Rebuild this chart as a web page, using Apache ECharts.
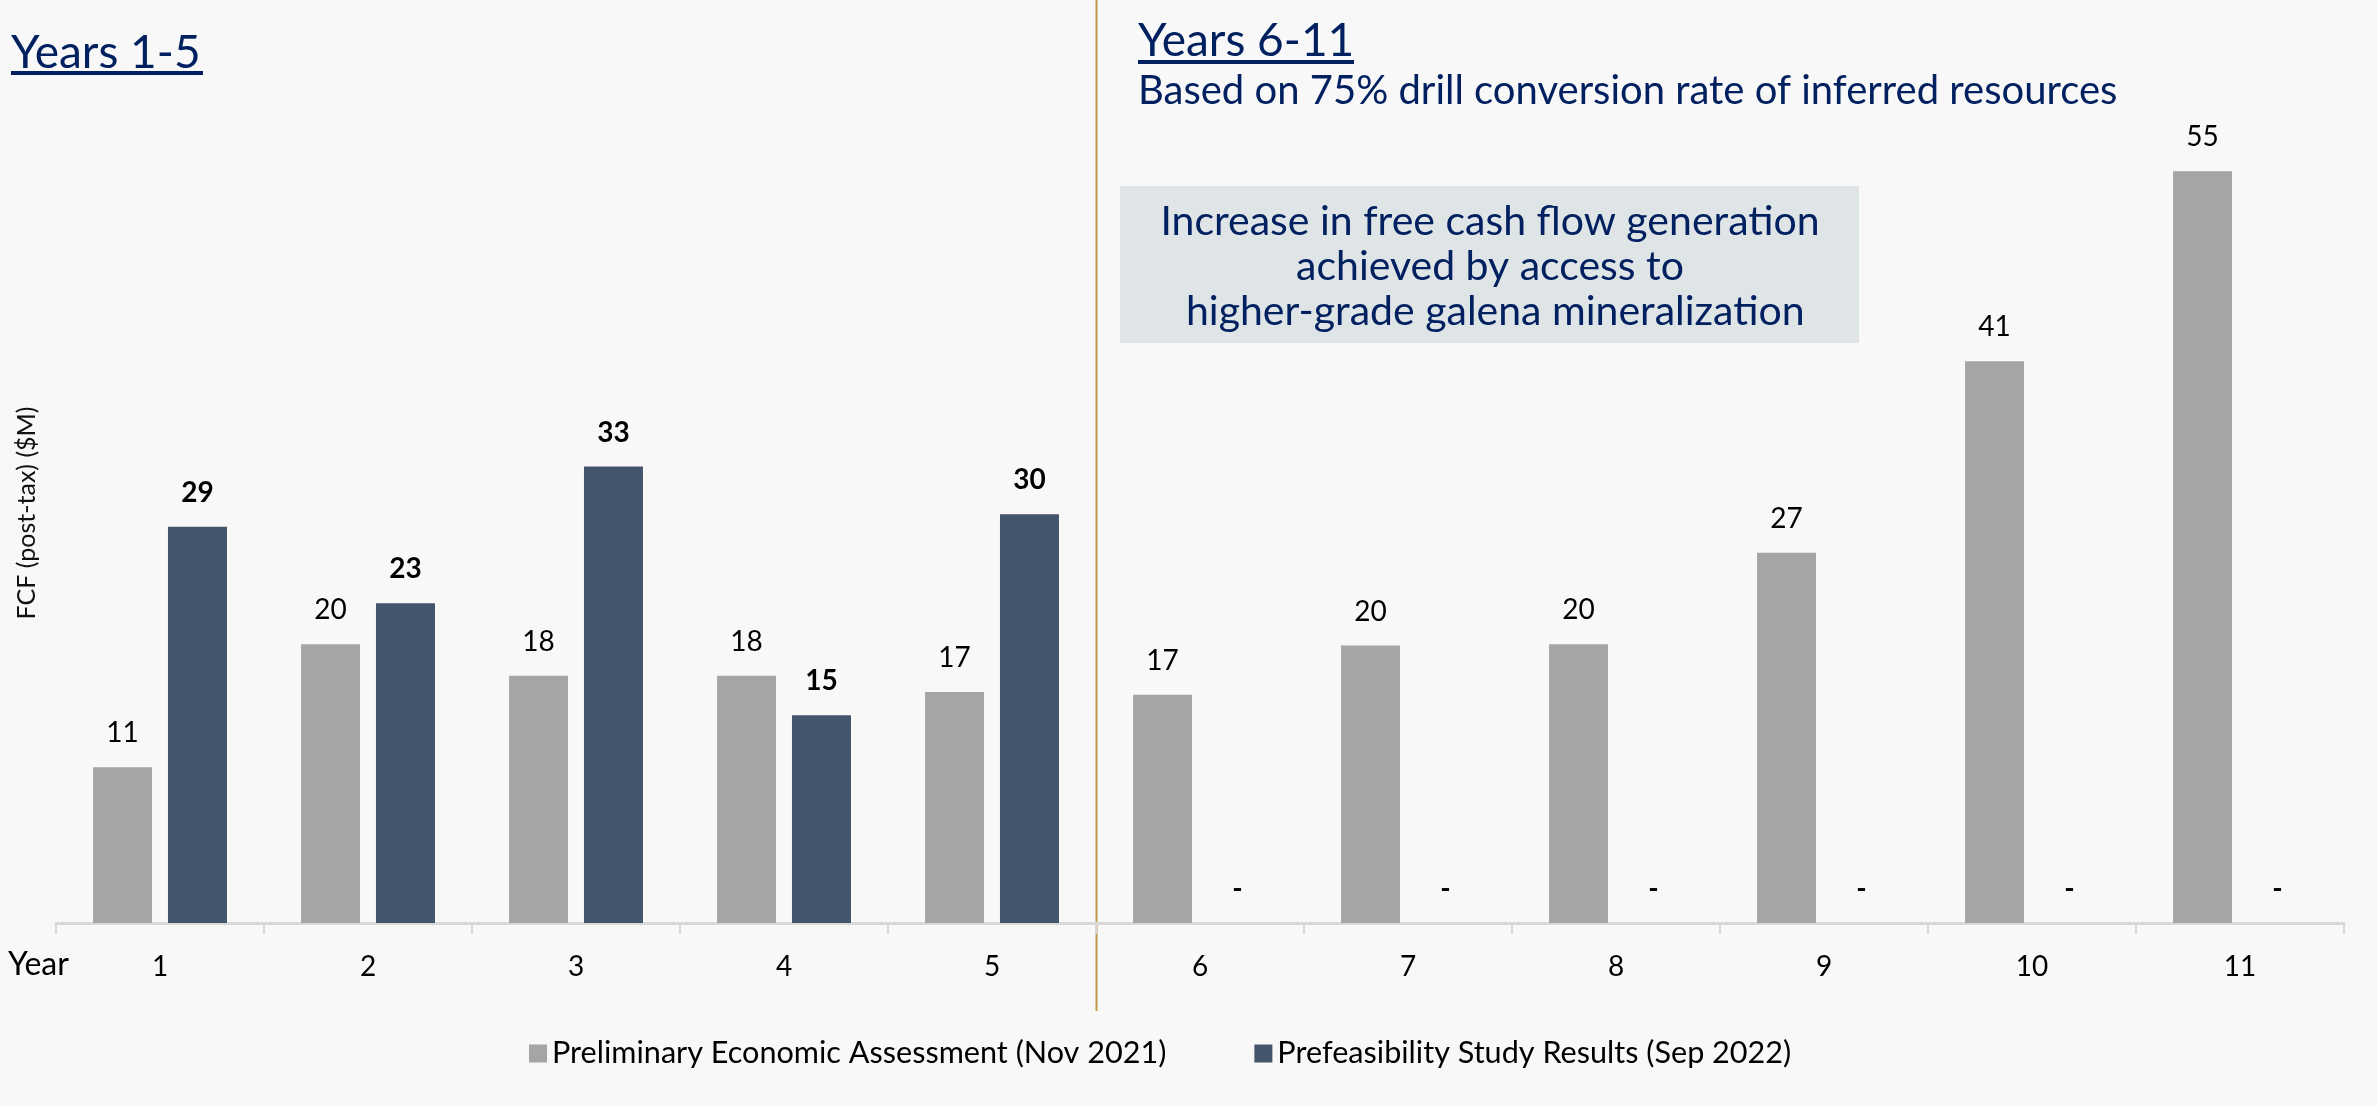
<!DOCTYPE html>
<html><head><meta charset="utf-8">
<script src="https://cdn.jsdelivr.net/npm/echarts@6/dist/echarts.min.js"></script>
<style>html,body{margin:0;padding:0;background:#f8f8f8}#c{width:2377px;height:1106px}</style>
</head><body><div id="c"></div>
<script>
const years = ['1','2','3','4','5','6','7','8','9','10','11'];
const peaName = 'Preliminary Economic Assessment (Nov 2021)';
const pfsName = 'Prefeasibility Study Results (Sep 2022)';
const peaValues = [11.4, 20.4, 18.1, 18.1, 16.9, 16.7, 20.3, 20.4, 27.1, 41.1, 55.0];
const pfsValues = [29.0, 23.4, 33.4, 15.2, 29.9, 0, 0, 0, 0, 0, 0];
const yAxisName = 'FCF (post-tax) ($M)';
const leftTitle = 'Years 1-5';
const rightTitle = 'Years 6-11';
const rightSubtitle = 'Based on 75% drill conversion rate of inferred resources';
const noteText = 'Increase in free cash flow generation\nachieved by access to\n higher-grade galena mineralization';

const FONT = 'Lato, "Noto Sans", sans-serif';
const NAVY = '#002060';
const chart = echarts.init(document.getElementById('c'));
const option = {
  backgroundColor: '#f8f8f8',
  animation: false,
  grid: {left: 56, right: 33, top: 103, bottom: 183},
  legend: {
    data: [peaName, pfsName], icon: 'rect', itemWidth: 18, itemHeight: 18, itemGap: 88,
    left: 524, top: 1033,
    textStyle: {fontSize: 30.6, color: '#000', fontFamily: FONT}
  },
  xAxis: {
    type: 'category', data: years,
    axisLine: {lineStyle: {color: '#d9d9d9', width: 3}},
    axisTick: {show: true, length: 11, lineStyle: {color: '#d9d9d9', width: 2}},
    axisLabel: {color: '#000', fontSize: 28, fontFamily: FONT, margin: 30}
  },
  yAxis: {
    type: 'value', min: 0, max: 60,
    axisLine: {show: false}, axisTick: {show: false}, axisLabel: {show: false}, splitLine: {show: false},
    name: yAxisName, nameLocation: 'middle', nameGap: 17,
    nameTextStyle: {fontSize: 25, color: '#111', fontFamily: FONT}
  },
  series: [
    {
      name: peaName, type: 'bar', data: peaValues, barWidth: 59, barGap: '27%',
      itemStyle: {color: '#a5a5a5'},
      label: {show: true, position: 'top', distance: 20, fontSize: 28, color: '#000', fontFamily: FONT,
        formatter: p => String(Math.round(p.value))}
    },
    {
      name: pfsName, type: 'bar', data: pfsValues, barWidth: 59,
      itemStyle: {color: '#44546a'},
      label: {show: true, position: 'top', distance: 20, fontSize: 28, color: '#000', fontWeight: 'bold', fontFamily: FONT,
        formatter: p => p.value === 0 ? '-' : String(Math.round(p.value))}
    }
  ],
  graphic: [
    {id: 't1', type: 'text', x: 11, y: 53, style: {text: leftTitle, fontSize: 46, fontFamily: FONT, fill: NAVY, align: 'left', verticalAlign: 'middle'}},
    {id: 'u1', type: 'rect', shape: {x: 11, y: 71, width: 192, height: 4}, style: {fill: NAVY}},
    {id: 't2', type: 'text', x: 1138, y: 41, style: {text: rightTitle, fontSize: 46, fontFamily: FONT, fill: NAVY, align: 'left', verticalAlign: 'middle'}},
    {id: 'u2', type: 'rect', shape: {x: 1138, y: 60, width: 216, height: 4}, style: {fill: NAVY}},
    {id: 't3', type: 'text', x: 1138, y: 91, style: {text: rightSubtitle, fontSize: 40, fontFamily: FONT, fill: NAVY, align: 'left', verticalAlign: 'middle'}},
    {id: 'box', type: 'rect', shape: {x: 1120, y: 186, width: 739, height: 157}, style: {fill: '#dfe4e7'}},
    {id: 'note', type: 'text', x: 1490, y: 267, style: {text: noteText, fontSize: 41, lineHeight: 45, fontFamily: FONT, fill: NAVY, align: 'center', verticalAlign: 'middle'}},
    {id: 'yr', type: 'text', x: 8, y: 965, style: {text: 'Year', fontSize: 32, fontFamily: FONT, fill: '#000', align: 'left', verticalAlign: 'middle'}}
  ]
};
chart.setOption(option);
const x5 = chart.convertToPixel({xAxisIndex: 0}, '5');
const x6 = chart.convertToPixel({xAxisIndex: 0}, '6');
const xm = Math.round((x5 + x6) / 2) + 0.5;
chart.setOption({graphic: [{id: 'vline', type: 'line', shape: {x1: xm, y1: 0, x2: xm, y2: 1011}, style: {stroke: '#bf9a4d', lineWidth: 2}}]});
</script>
</body></html>
